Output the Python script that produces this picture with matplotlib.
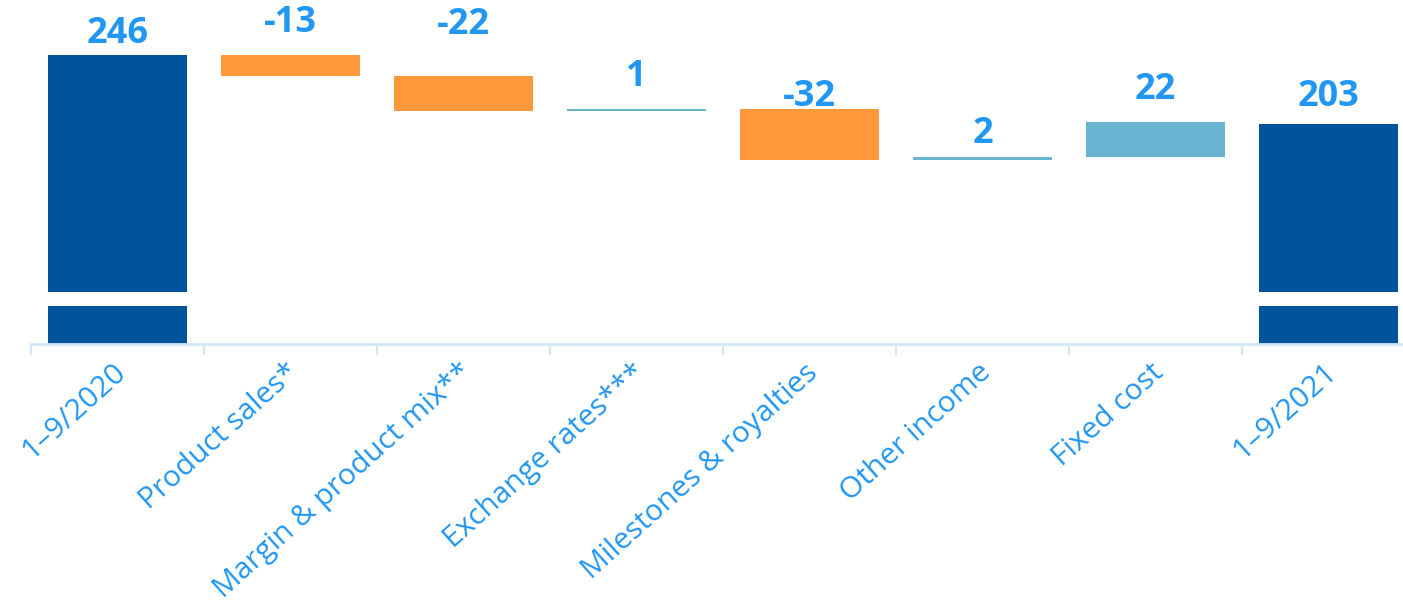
import matplotlib
matplotlib.use("Agg")
import matplotlib.pyplot as plt
import matplotlib.transforms as mtransforms

# data
categories = ["1\u20139/2020", "Product sales*", "Margin & product mix**", "Exchange rates***",
              "Milestones & royalties", "Other income", "Fixed cost", "1\u20139/2021"]
values = [246, -13, -22, 1, -32, 2, 22, 203]
labels = ["246", "-13", "-22", "1", "-32", "2", "22", "203"]
is_total = [True, False, False, False, False, False, False, True]

# styling
dark = "#00539C"
orange = "#FF983B"
light = "#6AB4D2"
text_col = "#2196F3"
axis_col = "#D3E6F8"
ybase = 64          # truncated axis bottom
brk = (88, 97)      # break band on the total bars
label_gap_px = [21, 32, 51, 32, 12, 23, 32, 27]

fig = plt.figure(figsize=(14.03, 6.03), dpi=100)
ax = fig.add_axes([31 / 1403, (603 - 344) / 603, 1384 / 1403, 344 / 603])

running = 0
for i, v in enumerate(values):
    if is_total[i]:
        bottom, top = ybase, v
        color = dark
        running = v
    else:
        start = running
        running = running + v
        bottom, top = min(start, running), max(start, running)
        color = orange if v < 0 else light
    ax.bar(i, top - bottom, bottom=bottom, width=0.8, color=color, zorder=2)
    ax.annotate(labels[i], (i, top), xytext=(0, label_gap_px[i] * 0.72),
                textcoords="offset points", ha="center", va="center",
                fontsize=26, fontweight="bold", color=text_col, family="Open Sans")

ax.axhspan(brk[0], brk[1], color="white", zorder=3, lw=0)

ax.set_xlim(-0.5, 7.5)
ax.set_ylim(ybase, 281)
for s in ["top", "right", "left"]:
    ax.spines[s].set_visible(False)
ax.spines["bottom"].set_color(axis_col)
ax.spines["bottom"].set_linewidth(2)
ax.set_yticks([])

ax.set_xticks(range(len(categories)))
ax.set_xticklabels(categories, rotation=42, ha="right", rotation_mode="anchor",
                   fontsize=21.5, color=text_col, family="Open Sans")
ax.tick_params(axis="x", which="major", length=0, pad=10)
shift = mtransforms.ScaledTranslation(-5 / 100, 0, fig.dpi_scale_trans)
for lab in ax.get_xticklabels():
    lab.set_transform(lab.get_transform() + shift)
ax.set_xticks([i - 0.5 for i in range(len(categories) + 1)], minor=True)
ax.tick_params(axis="x", which="minor", length=8, width=1.5, color=axis_col)

fig.savefig("out.png", dpi=100)
